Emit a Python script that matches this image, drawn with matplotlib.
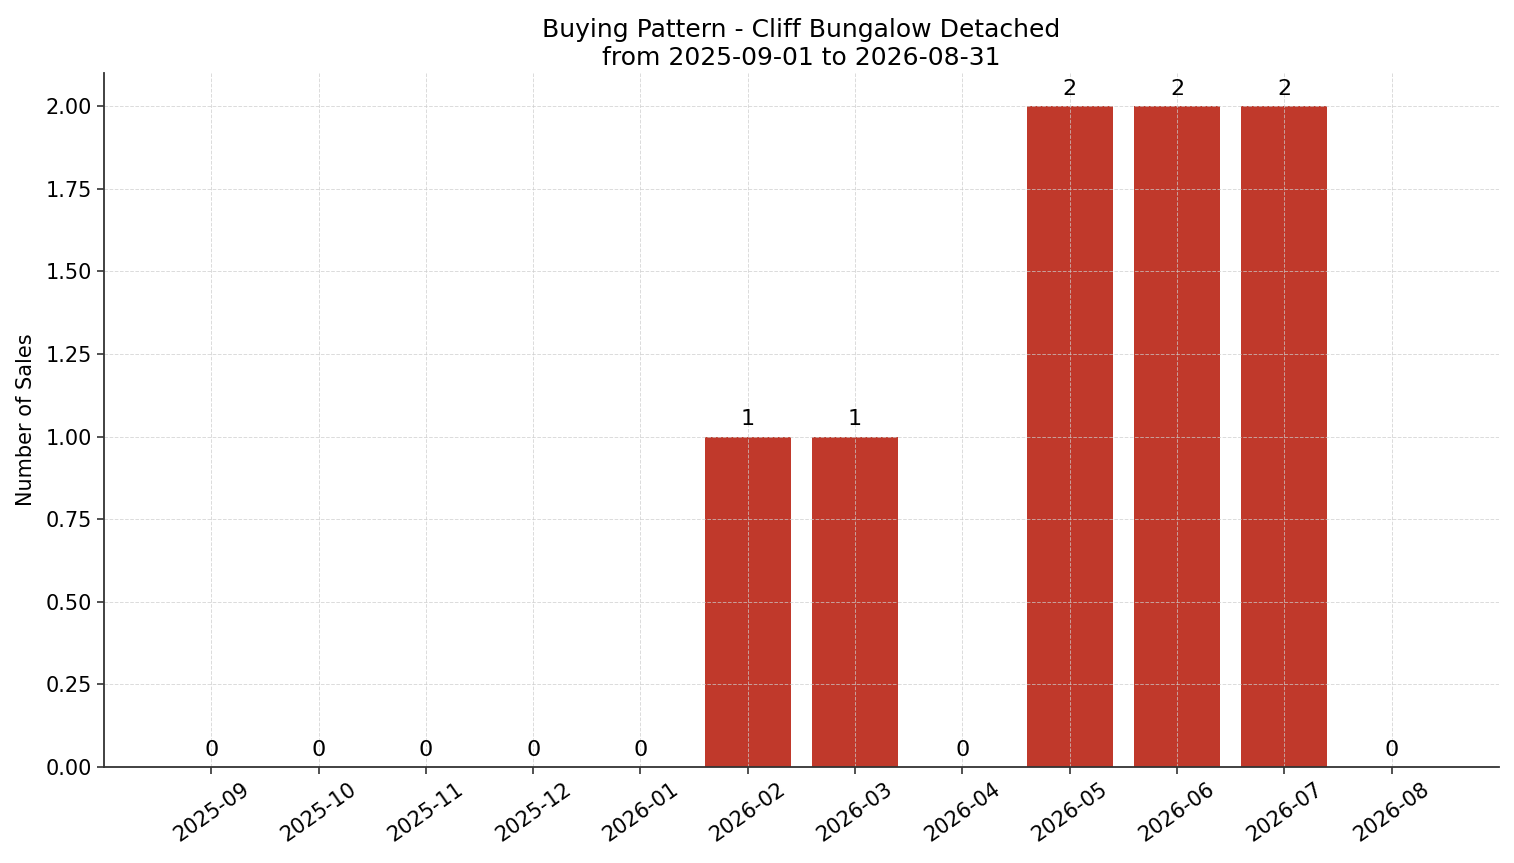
import matplotlib.pyplot as plt
import numpy as np

# monthly sales counts
months = ['2025-09', '2025-10', '2025-11', '2025-12', '2026-01', '2026-02',
          '2026-03', '2026-04', '2026-05', '2026-06', '2026-07', '2026-08']
sales = [0, 0, 0, 0, 0, 1, 1, 0, 2, 2, 2, 0]

fig, ax = plt.subplots(figsize=(15.14, 8.63), dpi=100)
x = np.arange(len(months))
bars = ax.bar(x, sales, width=0.8, color='#c0392b')

for xi, v in zip(x, sales):
    ax.text(xi, v + 0.022, str(v), ha='center', va='bottom', fontsize=16)

ax.set_xticks(x)
ax.set_xticklabels(months, rotation=35, ha='center', fontsize=15)
ax.tick_params(axis='y', labelsize=15)
ax.tick_params(length=5, width=1.2, color='#333333')
ax.set_xlim(-1, 12)
ax.set_ylim(0, 2.1)
ax.set_yticks(np.arange(0, 2.01, 0.25))
ax.yaxis.set_major_formatter(plt.FormatStrFormatter('%.2f'))
ax.set_ylabel('Number of Sales', fontsize=15, labelpad=7)
ax.set_title('Buying Pattern - Cliff Bungalow Detached\nfrom 2025-09-01 to 2026-08-31', fontsize=18)
ax.grid(True, linestyle='--', linewidth=0.7, color='#cccccc', alpha=0.7)
for s in ['top', 'right']:
    ax.spines[s].set_visible(False)
for s in ['left', 'bottom']:
    ax.spines[s].set_color('#333333')
    ax.spines[s].set_linewidth(1.3)

plt.subplots_adjust(left=0.0687, right=0.990, top=0.9154, bottom=0.1112)
plt.savefig('out.png')
